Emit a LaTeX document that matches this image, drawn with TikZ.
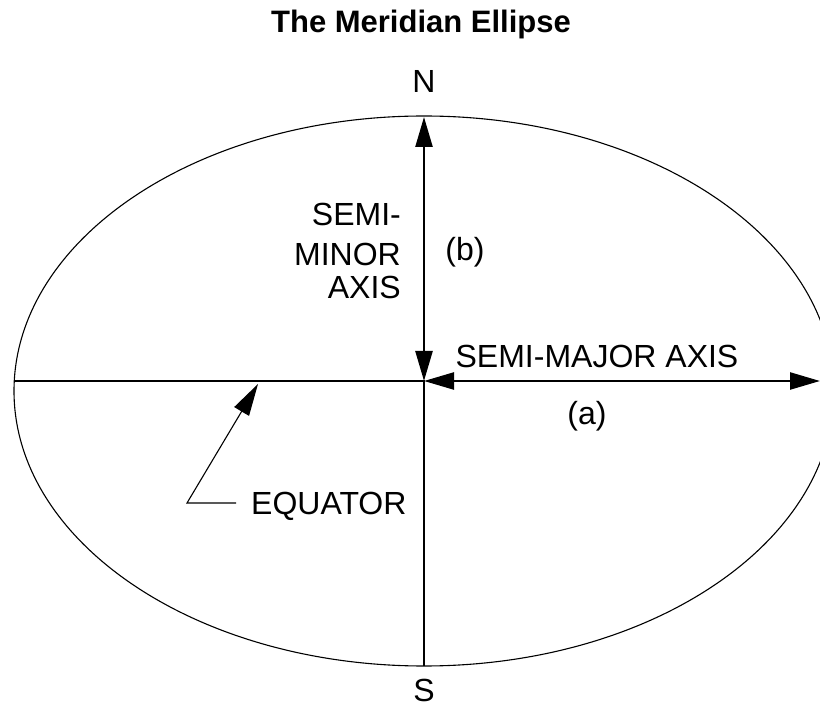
\documentclass[tikz,border=0pt]{standalone}
\usepackage{fontspec}
\setmainfont{Liberation Sans}
\usetikzlibrary{arrows.meta,positioning}

\begin{document}
\begin{tikzpicture}[x=1pt,y=-1pt,
  every node/.style={inner sep=0pt},
  lbl/.style={font=\fontsize{32}{36}\selectfont},
  axisline/.style={line width=2.4pt},
  thinline/.style={line width=1.1pt},
  >={Triangle[length=30pt,width=17pt]}]
  \useasboundingbox (0,0) rectangle (820,708);
  \clip (0,0) rectangle (820,708);
  \draw[thinline] (424,391) ellipse [x radius=410pt,y radius=275pt];
  % axes
  \coordinate (ctr) at (424,381);
  \coordinate (np) at (424,117);
  \coordinate (sp) at (424,666);
  \coordinate (wp) at (14,381);
  \coordinate (ep) at (820,381);
  \draw[axisline] (wp) -- (ctr) -- (sp);
  \draw[axisline,<->] (ctr) -- (np);
  \draw[axisline,<->] (ctr) -- (ep);
  % labels
  \node[anchor=base,font=\fontsize{31}{36}\bfseries\selectfont] (title) at (421,33) {The Meridian Ellipse};
  \node[lbl,anchor=base] (north) at (424,93) {N};
  \node[lbl,anchor=base] (south) at (424,701) {S};
  \node[lbl,anchor=base east] (semi) at (401,226) {SEMI-};
  \node[lbl,anchor=base east] (minor) at (401,266) {MINOR};
  \node[lbl,anchor=base east] (axisb) at (401,299) {AXIS};
  \node[lbl] (b) at (465,252) {(b)};
  \node[lbl,anchor=base] (major) at (597,368) {SEMI-MAJOR AXIS};
  \node[lbl,anchor=base] (a) at (587,425) {(a)};
  \node[lbl,anchor=base west] (equator) at (251,515) {EQUATOR};
  % pointer
  \coordinate (eqend) at (236,503);
  \coordinate (knee) at (187,503);
  \coordinate (eqtip) at (258,384);
  \draw[thinline,-{Triangle[length=32pt,width=17pt]}] (eqend) -- (knee) -- (eqtip);
\end{tikzpicture}
\end{document}
